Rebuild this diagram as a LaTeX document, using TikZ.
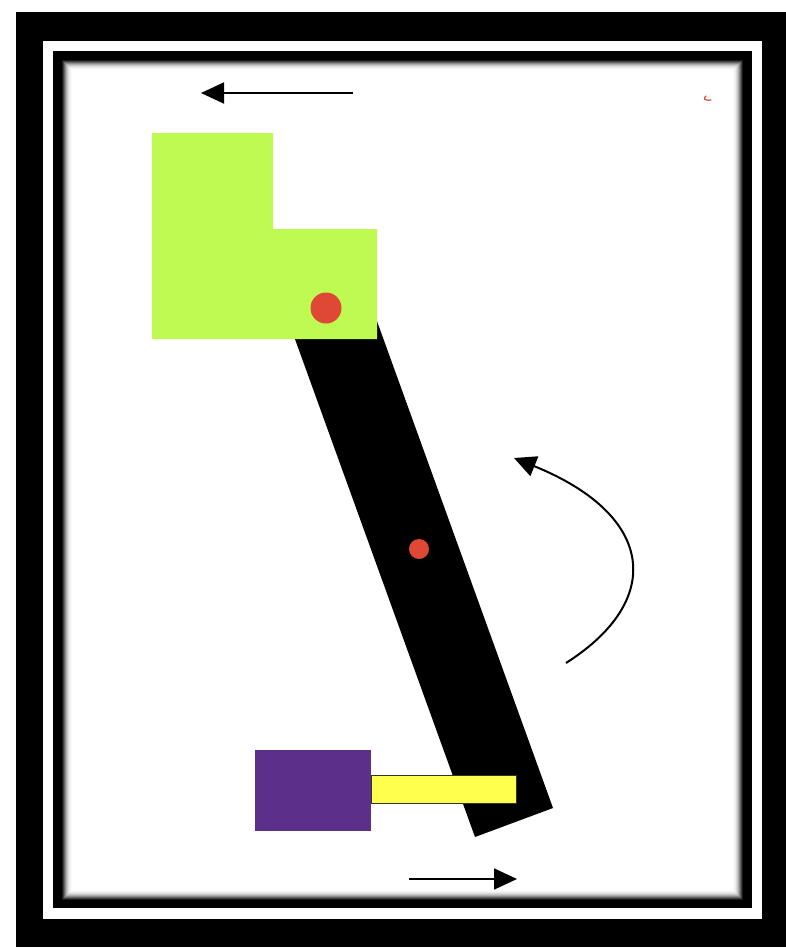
\documentclass[tikz,border=0pt]{standalone}
\usetikzlibrary{arrows.meta}
\definecolor{limeg}{RGB}{190,250,82}
\definecolor{dotred}{RGB}{222,72,52}
\definecolor{purp}{RGB}{92,48,138}
\definecolor{yel}{RGB}{255,255,77}
\tikzset{
  mover/.style={line width=1.8pt,-{Triangle[length=23pt,width=21pt]}},
  dotc/.style={fill=dotred,draw=none}
}
\begin{document}
\begin{tikzpicture}[x=1pt,y=-1pt]
\useasboundingbox (0,0) rectangle (786,950);
\fill[white] (0,0) rectangle (786,950);
% frame
\fill[black] (16,12) rectangle (786,947);
\fill[white] (43,41) rectangle (762,919);
\fill[black] (53,51) rectangle (752,908);
% inner shadow
\foreach \i/\g in {0/10,1/25,2/40,3/55,4/68,5/78,6/86,7/92,8/96,9/98,10/100}{
  \fill[white!\g!black] (62+\i,60+\i) rectangle (743-\i,900-\i);
}
% black bar
\fill[black] (287,317) coordinate (b1) -- (365,288) coordinate (b2) -- (553,808) coordinate (b3) -- (475,837) coordinate (b4) -- cycle;
% green L shape
\fill[limeg] (152,133) -- (273,133) -- (273,229) -- (377,229) -- (377,339) -- (152,339) -- cycle;
% red dots
\node[dotc,circle,minimum size=31pt,inner sep=0pt] (d1) at (326,308) {};
\node[dotc,circle,minimum size=20pt,inner sep=0pt] (d2) at (419,549) {};
% purple and yellow blocks
\node[fill=purp,draw=none,minimum width=116pt,minimum height=81pt,inner sep=0pt,anchor=north west] (pb) at (255,750) {};
\node[fill=yel,draw=black!80,line width=0.8pt,minimum width=145pt,minimum height=28pt,inner sep=0pt,anchor=north west] (yb) at (371,775) {};
% arrows
\coordinate (ta1) at (353,93);
\coordinate (ta2) at (201,93);
\draw[mover] (ta1) -- (ta2);
\coordinate (ba1) at (409,879);
\coordinate (ba2) at (517,879);
\draw[mover] (ba1) -- (ba2);
\coordinate (ca1) at (566,663);
\coordinate (ca2) at (514,458);
\draw[line width=2pt,-{Triangle[length=22pt,width=21pt]}] (ca1) .. controls (665,600) and (655,515) .. (ca2);
% small red mark
\coordinate (rm) at (707,99);
\draw[dotred,line width=1.2pt,line cap=round] (706,96) .. controls (703,98) and (704,101) .. (711,100);
\end{tikzpicture}
\end{document}
